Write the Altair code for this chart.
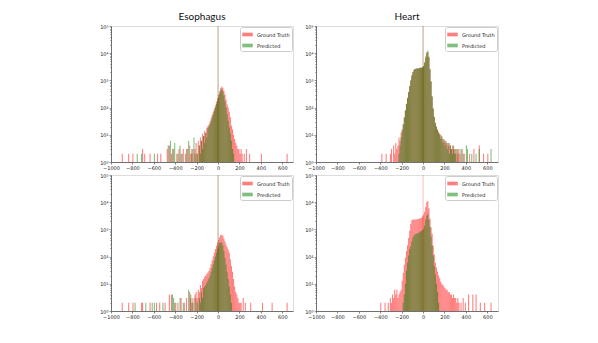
import altair as alt
import pandas as pd

BIN = 10
SERIES = ["Ground Truth", "Predicted"]
COLORS = ["#ff0000", "#008000"]
X_TICKS = [-1000, -800, -600, -400, -200, 0, 200, 400, 600]
Y_TICKS = [1, 10, 100, 1000, 10000, 100000]
Y_MINOR = [m * 10 ** k for k in range(5) for m in range(2, 10)]

# ---------------- Esophagus (top row) ----------------
eso_top_gt_start = -250
eso_top_gt = [2, 3, 0, 3, 5, 2, 6, 4, 8, 6,
              11, 9, 14, 12, 18, 21, 24, 30, 40, 52,
              70, 92, 120, 165, 220, 295, 400, 525, 600, 540,
              420, 300, 200, 130, 100, 70, 45, 22, 16, 10,
              7, 5, 4, 3, 3, 2, 3, 2]
eso_top_pr_start = -200
eso_top_pr = [2, 0, 4, 2, 6, 3, 9, 5, 12, 8,
              17, 20, 25, 33, 44, 58, 76, 100, 135, 180,
              240, 330, 430, 470, 400, 280, 170, 100, 58, 33,
              19, 11, 6, 3, 2]
eso_top_gt_out_x = [-900, -840, -800, -710, -690, -640, -570, -540, -480, -460,
                    -440, -420, -390, -370, -350, -330, -310, -290, -270, -260,
                    240, 260, 290, 400, 640]
eso_top_gt_out_n = [2, 2, 2, 3, 2, 2, 2, 2, 3, 4,
                    2, 3, 2, 3, 2, 3, 2, 3, 4, 2,
                    2, 3, 2, 2, 2]
eso_top_pr_out_x = [-760, -720, -600, -470, -450, -430, -410, -380, -360, -340,
                    -300, -280, -250, -230, -220]
eso_top_pr_out_n = [2, 2, 2, 4, 6, 3, 5, 2, 4, 2, 3, 6, 3, 8, 2]

# ---------------- Esophagus (bottom row) ----------------
eso_bot_gt_start = -250
eso_bot_gt = [2, 3, 0, 4, 5, 3, 6, 5, 9, 7,
              13, 15, 18, 20, 23, 26, 30, 38, 52, 72,
              100, 140, 190, 250, 330, 420, 530, 620, 640, 580,
              460, 360, 280, 220, 180, 140, 80, 45, 28, 15,
              8, 5, 4, 3, 2, 2, 2]
eso_bot_pr_start = -200
eso_bot_pr = [2, 0, 3, 2, 5, 3, 7, 8, 9, 11,
              13, 16, 20, 28, 38, 52, 72, 100, 140, 190,
              250, 310, 340, 330, 260, 160, 90, 50, 28, 15,
              8, 4, 2]
eso_bot_gt_out_x = [-900, -840, -800, -720, -710, -640, -580, -550, -500, -460,
                    -440, -410, -380, -350, -320, -300, -270, -260,
                    230, 250, 300, 410, 500, 640]
eso_bot_gt_out_n = [2, 2, 2, 2, 2, 2, 2, 2, 2, 4,
                    4, 2, 2, 3, 2, 3, 5, 3,
                    3, 2, 2, 2, 2, 2]
eso_bot_pr_out_x = [-780, -680, -620, -600, -520, -430, -420, -400, -360, -330,
                    -280, -260, -240, -220]
eso_bot_pr_out_n = [2, 2, 2, 2, 2, 4, 3, 2, 3, 2, 6, 4, 2, 3]

# ---------------- Heart (top row) ----------------
heart_top_gt_start = -310
heart_top_gt = [2, 3, 0, 4, 2, 5, 3, 4, 8, 6,
                12, 16, 25, 45, 80, 140, 230, 380, 620, 1000,
                1500, 2000, 2400, 2600, 2700, 2750, 2750, 2800, 2900, 2900,
                3000, 3300, 4500, 7000, 10000, 11000, 7000, 2500, 900, 250,
                90, 45, 28, 20, 16, 13, 11, 10, 8, 7,
                6, 6, 5, 5, 4, 5, 4, 3, 4, 3,
                3, 2, 3, 2, 3]
heart_top_pr_start = -230
heart_top_pr = [2, 4, 8, 14, 24, 42, 78, 135, 225, 370,
                610, 1000, 1500, 2050, 2450, 2650, 2750, 2800, 2800, 2850,
                2950, 2950, 3050, 3400, 4700, 7500, 11000, 12500, 7500, 2700,
                950, 260, 95, 46, 28, 20, 15, 12, 10, 7,
                9, 5, 7, 4, 6, 3, 5, 2, 4, 3,
                2, 4, 2, 3]
heart_top_gt_out_x = [-390, -350, 340, 360, 380, 430, 470, 520, 560, 600]
heart_top_gt_out_n = [2, 2, 2, 3, 2, 2, 3, 4, 2, 2]
heart_top_pr_out_x = [320, 350, 370, 400, 410, 450, 490, 520, 630]
heart_top_pr_out_n = [3, 3, 2, 4, 3, 2, 2, 3, 3]

# ---------------- Heart (bottom row) ----------------
heart_bot_gt_start = -330
heart_bot_gt = [2, 0, 3, 2, 4, 3, 6, 4, 6, 3,
                4, 5, 6, 13, 25, 50, 90, 160, 260, 480,
                900, 1600, 2150, 2300, 2300, 2300, 2300, 2350, 2400, 2450,
                2550, 2700, 3000, 3500, 4500, 6700, 10000, 11000, 6000, 2500,
                1200, 700, 250, 120, 60, 40, 28, 20, 16, 12,
                10, 9, 8, 7, 6, 6, 5, 5, 4, 4,
                3, 4, 3, 3, 2, 3, 2]
heart_bot_pr_start = -190
heart_bot_pr = [2, 4, 10, 30, 60, 110, 190, 240, 360, 500,
                600, 650, 690, 710, 740, 780, 820, 870, 950, 1050,
                1400, 2300, 3200, 3800, 2200, 1200, 550, 260, 110, 45,
                22, 10, 5, 2]
heart_bot_gt_out_x = [-400, -360, 350, 370, 390, 420, 460, 490, 530, 570, 630]
heart_bot_gt_out_n = [2, 2, 2, 3, 2, 4, 4, 4, 2, 2, 2]
heart_bot_pr_out_x = []
heart_bot_pr_out_n = []

# zero-difference spike at x = 0 (far above the axis top)
SPIKE_X = 0
SPIKE_N = 300000


def build_df(gt_start, gt, pr_start, pr, gt_ox, gt_on, pr_ox, pr_on):
    rows = []
    for name, start, core, ox, on in [
        (SERIES[0], gt_start, gt, gt_ox, gt_on),
        (SERIES[1], pr_start, pr, pr_ox, pr_on),
    ]:
        for i, n in enumerate(core):
            rows.append({"x0": start + i * BIN, "x1": start + (i + 1) * BIN,
                         "count": n, "series": name})
        for x, n in zip(ox, on):
            rows.append({"x0": x, "x1": x + BIN, "count": n, "series": name})
    df = pd.DataFrame(rows)
    df = df[df["count"] >= 1].reset_index(drop=True)
    df["base"] = 1
    return df


IS_MAJOR = "abs(log(datum.value)/LN10 - round(log(datum.value)/LN10)) < 0.001"


def panel(df, spike_series, title=None):
    xscale = alt.Scale(domain=[-1000, 700], nice=False, zero=False)
    yscale = alt.Scale(type="log", domain=[1, 100000], nice=False)
    cscale = alt.Scale(domain=SERIES, range=COLORS)
    xaxis = alt.Axis(values=X_TICKS, title=None, grid=False, labelFontSize=5,
                     labelFont="DejaVu Sans", labelColor="#222", tickSize=2,
                     tickColor="#333", domainColor="#555", labelPadding=1,
                     domainWidth=0.8, tickWidth=0.6, format="d",
                     labelOverlap=False, labelFlush=False)
    yaxis = alt.Axis(values=Y_TICKS + Y_MINOR, title=None, grid=False, labelFontSize=5,
                     labelFont="DejaVu Sans", labelColor="#222",
                     tickSize=alt.ExprRef(IS_MAJOR + " ? 2 : 1.2"),
                     tickColor="#333", domainColor="#555", labelPadding=1,
                     domainWidth=0.8, tickWidth=0.5, labelOverlap=False,
                     labelExpr="(" + IS_MAJOR + ") ? '10' + ['⁰','¹','²','³','⁴','⁵'][round(log(datum.value)/LN10)] : ''")
    legend = alt.Legend(orient="top-right", title=None, labelFontSize=5,
                        labelFont="DejaVu Sans", labelColor="#222",
                        symbolType="M-1,-0.35H1V0.35H-1Z", symbolSize=110,
                        symbolOpacity=0.5, symbolStrokeWidth=0,
                        fillColor="white", strokeColor="#ccc", padding=2,
                        offset=1, rowPadding=2, labelOffset=4, cornerRadius=2)
    bars = alt.Chart(df).mark_bar(opacity=0.5, clip=True, strokeWidth=0).encode(
        x=alt.X("x0:Q", scale=xscale, axis=xaxis),
        x2="x1:Q",
        y=alt.Y("count:Q", scale=yscale, axis=yaxis),
        y2="base:Q",
        color=alt.Color("series:N", scale=cscale, legend=legend),
    )
    spike_df = pd.DataFrame({"x0": [SPIKE_X] * len(spike_series),
                             "count": [SPIKE_N] * len(spike_series),
                             "base": [1] * len(spike_series),
                             "series": spike_series})
    spike = alt.Chart(spike_df).mark_rule(opacity=0.45, clip=True, strokeWidth=0.6).encode(
        x=alt.X("x0:Q", scale=xscale, axis=xaxis),
        y=alt.Y("count:Q", scale=yscale, axis=yaxis),
        y2="base:Q",
        color=alt.Color("series:N", scale=cscale, legend=legend),
    )
    ch = alt.layer(bars, spike).properties(width=182, height=136)
    if title:
        ch = ch.properties(title=alt.Title(title, fontSize=10, font="Lato",
                                           fontWeight="normal", color="#111",
                                           offset=2))
    return ch


tl = panel(build_df(eso_top_gt_start, eso_top_gt, eso_top_pr_start, eso_top_pr,
                    eso_top_gt_out_x, eso_top_gt_out_n, eso_top_pr_out_x, eso_top_pr_out_n),
           SERIES, "Esophagus")
tr = panel(build_df(heart_top_gt_start, heart_top_gt, heart_top_pr_start, heart_top_pr,
                    heart_top_gt_out_x, heart_top_gt_out_n, heart_top_pr_out_x, heart_top_pr_out_n),
           SERIES, "Heart")
bl = panel(build_df(eso_bot_gt_start, eso_bot_gt, eso_bot_pr_start, eso_bot_pr,
                    eso_bot_gt_out_x, eso_bot_gt_out_n, eso_bot_pr_out_x, eso_bot_pr_out_n),
           SERIES)
br = panel(build_df(heart_bot_gt_start, heart_bot_gt, heart_bot_pr_start, heart_bot_pr,
                    heart_bot_gt_out_x, heart_bot_gt_out_n, heart_bot_pr_out_x, heart_bot_pr_out_n),
           [SERIES[0]])

chart = alt.concat(tl, tr, bl, br, columns=2, bounds="flush",
                   spacing=alt.RowColnumber(row=13, column=23)).resolve_legend(
    color="independent"
).properties(
    padding={"left": 91, "top": 3, "right": 5, "bottom": 5}
).configure_view(stroke="#aaa", strokeWidth=0.8).configure(background="white")

chart.save("out.html", embed_options={"renderer": "svg", "actions": False})
